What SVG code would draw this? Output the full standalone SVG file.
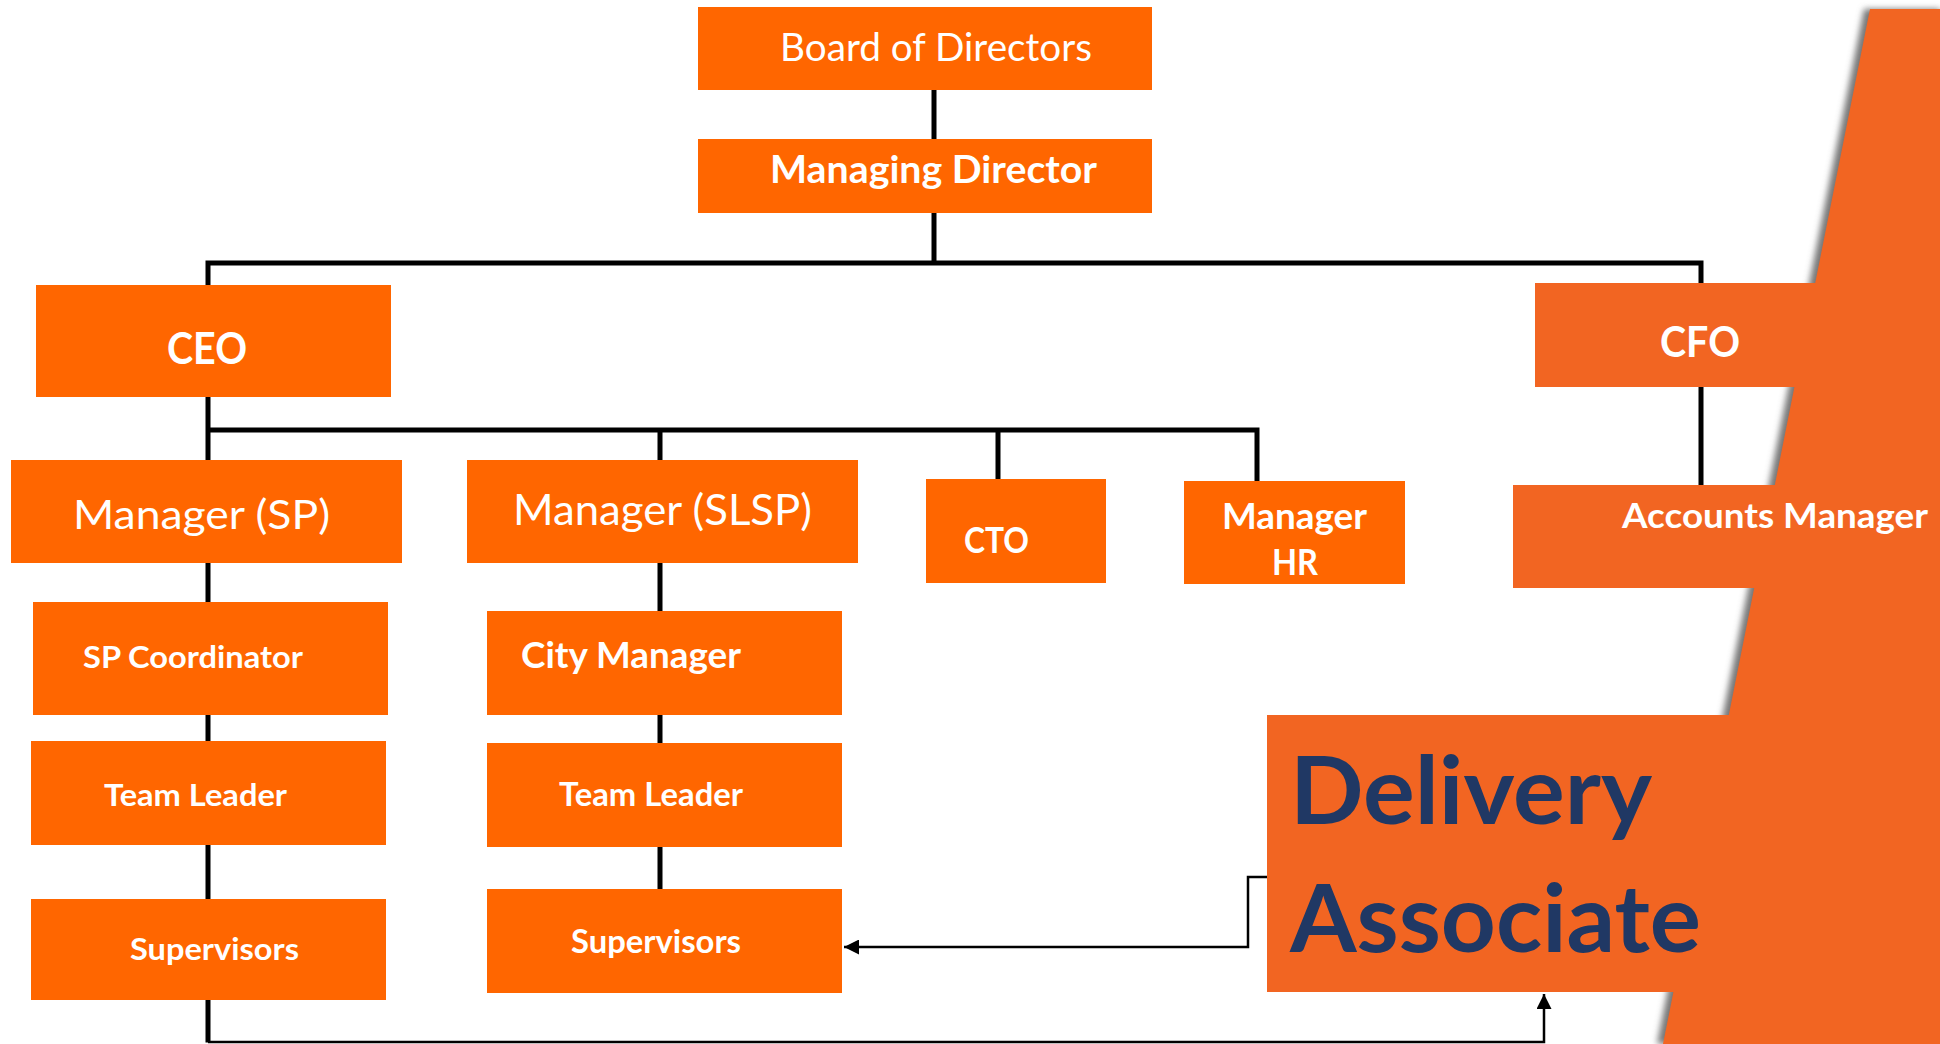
<svg xmlns="http://www.w3.org/2000/svg" width="1940" height="1044" viewBox="0 0 1940 1044">
<style>
.box{fill:#FF6600}
.box2{fill:#F26522}
.t{font-family:Lato,"Open Sans","Liberation Sans",sans-serif;fill:#FFFFFF}
.b{font-weight:bold}
.da{font-family:Lato,"Open Sans","Liberation Sans",sans-serif;font-weight:bold;fill:#203864;font-size:93px}
.c{fill:none;stroke:#000;stroke-width:5;stroke-linecap:square}
.a{fill:none;stroke:#000;stroke-width:2.5}
</style>
<defs>
<filter id="sh" x="-20%" y="-5%" width="140%" height="110%"><feGaussianBlur stdDeviation="3"/></filter>
<marker id="arr" viewBox="0 0 10 10" refX="10" refY="5" markerWidth="6" markerHeight="6" markerUnits="strokeWidth" orient="auto"><path d="M0,0 L10,5 L0,10 Z" fill="#000"/></marker>
</defs>
<rect width="1940" height="1044" fill="#FFFFFF"/>
<g id="background">
<polygon points="1864,9 1940,9 1940,1044 1657,1044" fill="#777" filter="url(#sh)"/>
<polygon points="1870,9 1940,9 1940,1044 1663,1044" fill="#F26522"/>
</g>
<g id="connectors">
<path class="c" d="M934,90 V139 M934,213 V263 M208,263 H1701 M208,263 V285 M1701,263 V283 M1701,387 V485"/>
<path class="c" d="M208,397 V1040 M208,430 H1257 V481 M660,430 V460 M998,430 V479"/>
<path class="c" d="M660,563 V611 M660,715 V743 M660,847 V889"/>
<path class="a" d="M1267,877 H1248 V947 H844" marker-end="url(#arr)"/>
<path class="a" d="M208,1042 H1544 V994" marker-end="url(#arr)"/>
</g>
<g id="board"><rect class="box" x="698" y="7" width="454" height="83"/><text class="t" x="780" y="61" font-size="37.7" textLength="312" lengthAdjust="spacingAndGlyphs">Board of Directors</text></g>
<g id="md"><rect class="box" x="698" y="139" width="454" height="74"/><text class="t b" x="770" y="183" font-size="37.7" textLength="327" lengthAdjust="spacingAndGlyphs">Managing Director</text></g>
<g id="ceo"><rect class="box" x="36" y="285" width="355" height="112"/><text class="t b" x="167" y="364" font-size="43" textLength="80" lengthAdjust="spacingAndGlyphs">CEO</text></g>
<g id="cfo"><rect class="box2" x="1535" y="283" width="300" height="104"/><text class="t b" x="1660" y="357" font-size="42" textLength="80" lengthAdjust="spacingAndGlyphs">CFO</text></g>
<g id="mgr-sp"><rect class="box" x="11" y="460" width="391" height="103"/><text class="t" x="73" y="529" font-size="40.5" textLength="257" lengthAdjust="spacingAndGlyphs">Manager (SP)</text></g>
<g id="mgr-slsp"><rect class="box" x="467" y="460" width="391" height="103"/><text class="t" x="513" y="525" font-size="42" textLength="299" lengthAdjust="spacingAndGlyphs">Manager (SLSP)</text></g>
<g id="cto"><rect class="box" x="926" y="479" width="180" height="104"/><text class="t b" x="964" y="553" font-size="36" textLength="65" lengthAdjust="spacingAndGlyphs">CTO</text></g>
<g id="mgr-hr"><rect class="box" x="1184" y="481" width="221" height="103"/><text class="t b" x="1222" y="529" font-size="36" textLength="145" lengthAdjust="spacingAndGlyphs">Manager</text><text class="t b" x="1272" y="575" font-size="36" textLength="46" lengthAdjust="spacingAndGlyphs">HR</text></g>
<g id="accounts"><rect class="box2" x="1513" y="485" width="330" height="103"/><text class="t b" x="1622" y="528" font-size="35" textLength="306" lengthAdjust="spacingAndGlyphs">Accounts Manager</text></g>
<g id="sp-coord"><rect class="box" x="33" y="602" width="355" height="113"/><text class="t b" x="83" y="668" font-size="31" textLength="220" lengthAdjust="spacingAndGlyphs">SP Coordinator</text></g>
<g id="tl-sp"><rect class="box" x="31" y="741" width="355" height="104"/><text class="t b" x="104" y="806" font-size="31" textLength="183" lengthAdjust="spacingAndGlyphs">Team Leader</text></g>
<g id="sup-sp"><rect class="box" x="31" y="899" width="355" height="101"/><text class="t b" x="130" y="960" font-size="31" textLength="169" lengthAdjust="spacingAndGlyphs">Supervisors</text></g>
<g id="city"><rect class="box" x="487" y="611" width="355" height="104"/><text class="t b" x="521" y="668" font-size="36" textLength="220" lengthAdjust="spacingAndGlyphs">City Manager</text></g>
<g id="tl-slsp"><rect class="box" x="487" y="743" width="355" height="104"/><text class="t b" x="559" y="806" font-size="32" textLength="184" lengthAdjust="spacingAndGlyphs">Team Leader</text></g>
<g id="sup-slsp"><rect class="box" x="487" y="889" width="355" height="104"/><text class="t b" x="571" y="953" font-size="32" textLength="170" lengthAdjust="spacingAndGlyphs">Supervisors</text></g>
<g id="delivery"><rect class="box2" x="1267" y="715" width="470" height="277"/><text class="da" x="1290" y="824" textLength="362" lengthAdjust="spacingAndGlyphs">Delivery</text><text class="da" x="1290" y="952" textLength="411" lengthAdjust="spacingAndGlyphs">Associate</text></g>
</svg>
